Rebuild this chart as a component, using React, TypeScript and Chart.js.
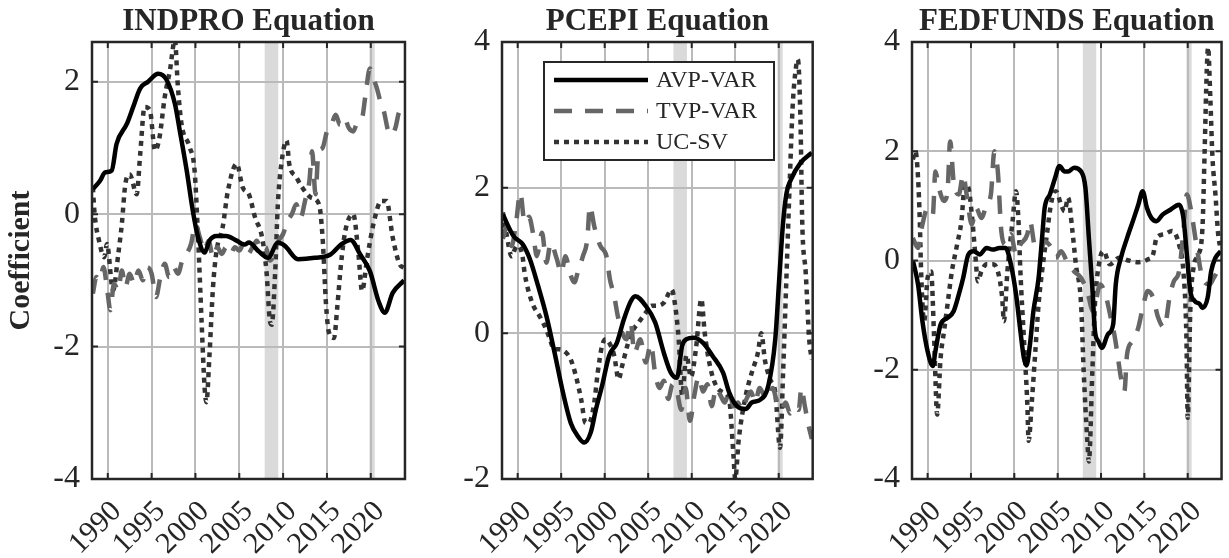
import React, { useEffect, useRef } from 'react';
import { Chart, registerables } from 'chart.js';

Chart.register(...registerables);

const FONT_FAMILY = '"Liberation Serif", "Times New Roman", Times, serif';
const TEXT_COLOR = '#262626';
const GRID_COLOR = '#bababa';
const SHADE_COLOR = '#dadada';

const seriesLabels = ['AVP-VAR', 'TVP-VAR', 'UC-SV'];
const xTickYears = [1990, 1995, 2000, 2005, 2010, 2015, 2020];
const recessionStarts = [2007.9, 2019.85];
const recessionEnds = [2009.45, 2020.45];
const panelTitles = ['INDPRO Equation', 'PCEPI Equation', 'FEDFUNDS Equation'];
const yAxisLabel = 'Coefficient';

const indproYTicks = [-4, -2, 0, 2];
const pcepiYTicks = [-2, 0, 2, 4];
const fedfundsYTicks = [-4, -2, 0, 2, 4];

// ---------- INDPRO ----------
const indproAvpYears = [1988.3, 1989.1, 1989.7, 1990.45, 1991.0, 1992.2, 1992.9, 1993.7, 1994.6, 1995.75, 1996.7, 1997.65, 1998.2, 1999.0, 1999.7, 2000.3, 2001.05, 2001.6, 2002.4, 2003.5, 2004.7, 2005.6, 2006.1, 2007.2, 2008.3, 2009.4, 2010.2, 2011.7, 2013.6, 2015.4, 2016.6, 2017.7, 2018.8, 2019.9, 2020.9, 2021.6, 2022.5, 2023.8];
const indproAvpValues = [0.38, 0.5, 0.63, 0.66, 1.06, 1.37, 1.62, 1.9, 2.0, 2.12, 2.03, 1.67, 1.27, 0.66, 0.05, -0.35, -0.58, -0.4, -0.33, -0.33, -0.4, -0.46, -0.43, -0.56, -0.66, -0.43, -0.48, -0.68, -0.66, -0.61, -0.46, -0.39, -0.61, -0.86, -1.32, -1.49, -1.19, -1.0];

const indproTvpYears = [1988.3, 1988.7, 1989.1, 1989.5, 1989.9, 1990.3, 1990.7, 1991.2, 1991.6, 1992.0, 1992.5, 1993.0, 1993.5, 1994.0, 1994.5, 1995.0, 1995.5, 1996.0, 1996.5, 1997.0, 1997.5, 1998.0, 1998.5, 1999.0, 1999.5, 2000.0, 2000.5, 2001.0, 2001.5, 2002.0, 2002.5, 2003.0, 2003.5, 2004.0, 2004.5, 2005.0, 2005.5, 2006.0, 2006.5, 2007.0, 2007.5, 2008.0, 2008.5, 2009.0, 2009.5, 2010.0, 2010.5, 2011.0, 2011.5, 2012.0, 2012.5, 2013.0, 2013.3, 2013.7, 2014.0, 2014.5, 2015.0, 2015.5, 2016.0, 2016.5, 2017.0, 2017.5, 2018.0, 2018.5, 2019.0, 2019.4, 2019.9, 2020.3, 2020.7, 2021.1, 2021.5, 2022.0, 2022.4, 2022.8, 2023.3, 2023.8];
const indproTvpValues = [-1.2, -0.95, -1.0, -0.8, -1.1, -1.45, -1.05, -1.15, -0.85, -1.1, -0.9, -1.05, -0.85, -1.0, -0.8, -0.9, -1.25, -0.95, -0.75, -0.95, -0.8, -0.9, -0.7, -0.6, -0.45, -0.15, -0.35, -0.55, -0.4, -0.65, -0.5, -0.6, -0.5, -0.6, -0.5, -0.55, -0.45, -0.6, -0.5, -0.4, -0.55, -0.5, -0.7, -0.6, -0.4, -0.3, -0.1, 0.0, 0.15, -0.05, 0.2, 0.5, 0.95, 0.3, 0.9, 1.0, 1.25, 1.35, 1.5, 1.35, 1.45, 1.3, 1.25, 1.4, 1.45, 1.8, 2.2, 2.05, 1.9, 1.7, 1.55, 1.25, 1.2, 1.3, 1.55, 1.5];

const indproUcsvYears = [1988.3, 1988.5, 1989.0, 1989.6, 1989.9, 1990.6, 1991.2, 1991.6, 1992.0, 1992.5, 1993.3, 1993.7, 1994.2, 1994.8, 1995.4, 1995.9, 1996.5, 1997.1, 1997.65, 1998.0, 1998.4, 1999.35, 1999.9, 2000.3, 2000.7, 2001.05, 2001.25, 2001.6, 2002.0, 2002.4, 2003.1, 2003.7, 2004.7, 2005.4, 2006.1, 2006.8, 2007.6, 2008.1, 2008.5, 2008.7, 2009.1, 2009.4, 2009.8, 2010.4, 2010.7, 2011.5, 2012.2, 2013.2, 2014.1, 2014.5, 2014.9, 2015.2, 2015.8, 2016.2, 2016.6, 2017.1, 2018.0, 2018.6, 2019.0, 2019.6, 2020.3, 2021.2, 2021.8, 2022.5, 2023.3, 2023.8];
const indproUcsvValues = [0.4, 0.0, -0.4, -0.65, -0.45, -1.15, -0.6, -0.15, 0.45, 0.6, 0.3, 0.91, 1.62, 1.57, 0.96, 1.16, 1.77, 2.18, 2.63, 1.92, 1.37, 1.01, 0.66, -0.35, -1.62, -2.63, -2.84, -2.13, -1.11, -0.56, -0.2, 0.35, 0.76, 0.4, 0.3, -0.05, -0.35, -0.86, -1.62, -1.67, -0.86, 0.15, 0.76, 1.11, 0.76, 0.56, 0.4, 0.25, 0.15, -0.35, -1.37, -1.77, -1.87, -1.37, -0.76, -0.25, 0.0, -0.61, -1.16, -0.66, -0.15, 0.2, 0.2, -0.35, -0.76, -0.81];

// ---------- PCEPI ----------
const pcepiAvpYears = [1988.3, 1989.5, 1990.6, 1991.4, 1992.35, 1993.3, 1994.25, 1995.2, 1996.1, 1996.9, 1997.65, 1998.4, 1999.0, 1999.7, 2000.5, 2001.4, 2002.2, 2003.0, 2003.5, 2004.7, 2005.8, 2006.8, 2007.6, 2008.3, 2008.9, 2009.4, 2010.2, 2011.3, 2012.4, 2013.6, 2014.3, 2015.2, 2016.2, 2016.9, 2017.9, 2018.8, 2019.6, 2020.1, 2020.5, 2020.9, 2021.4, 2022.5, 2023.8];
const pcepiAvpValues = [1.63, 1.34, 1.22, 1.02, 0.65, 0.24, -0.27, -0.81, -1.23, -1.41, -1.5, -1.36, -1.04, -0.72, -0.31, -0.13, 0.19, 0.44, 0.51, 0.38, 0.15, -0.27, -0.54, -0.61, -0.17, -0.08, -0.06, -0.13, -0.31, -0.54, -0.81, -1.0, -1.04, -0.95, -0.91, -0.72, -0.08, 0.83, 1.52, 1.93, 2.11, 2.34, 2.48];

const pcepiTvpYears = [1988.3, 1988.8, 1989.3, 1989.8, 1990.3, 1990.8, 1991.3, 1991.8, 1992.2, 1992.8, 1993.3, 1993.8, 1994.5, 1995.0, 1995.5, 1996.0, 1996.5, 1997.0, 1997.5, 1998.0, 1998.3, 1998.8, 1999.5, 2000.2, 2000.6, 2001.1, 2001.5, 2002.0, 2002.5, 2003.0, 2003.4, 2004.1, 2004.7, 2005.3, 2005.8, 2006.3, 2006.8, 2007.3, 2007.8, 2008.3, 2008.8, 2009.3, 2009.8, 2010.3, 2010.8, 2011.3, 2011.8, 2012.3, 2012.8, 2013.3, 2013.8, 2014.3, 2014.8, 2015.3, 2015.8, 2016.3, 2016.8, 2017.3, 2017.8, 2018.3, 2018.8, 2019.3, 2019.8, 2020.3, 2020.8, 2021.3, 2021.8, 2022.3, 2022.6, 2023.0, 2023.4, 2023.8];
const pcepiTvpValues = [1.3, 1.47, 1.2, 1.5, 1.93, 1.52, 1.6, 1.35, 1.06, 1.38, 0.97, 1.24, 1.02, 0.83, 1.06, 0.83, 0.7, 0.88, 1.06, 1.29, 1.75, 1.47, 1.2, 1.06, 0.74, 0.51, 0.24, 0.01, -0.08, 0.15, -0.27, -0.08, -0.4, -0.15, -0.55, -0.75, -0.65, -0.9, -0.7, -0.8, -1.05, -0.75, -1.2, -0.85, -0.6, -0.8, -0.7, -1.0, -0.75, -0.85, -0.95, -0.8, -1.0, -0.95, -1.05, -0.9, -0.8, -0.95, -0.75, -0.85, -0.9, -0.75, -0.95, -1.05, -0.95, -1.1, -1.0, -1.05, -0.75, -1.0, -1.25, -1.45];

const pcepiUcsvYears = [1988.3, 1988.7, 1989.3, 1989.9, 1990.5, 1990.8, 1991.2, 1991.8, 1992.5, 1993.3, 1993.7, 1994.2, 1994.8, 1995.6, 1996.1, 1996.7, 1997.3, 1997.8, 1998.2, 1998.8, 1999.2, 1999.7, 2000.1, 2000.7, 2001.1, 2001.6, 2002.0, 2002.6, 2003.1, 2003.9, 2004.7, 2005.4, 2006.1, 2006.8, 2007.7, 2008.1, 2008.5, 2008.9, 2009.4, 2009.9, 2010.5, 2011.1, 2011.5, 2012.1, 2012.8, 2013.6, 2014.3, 2014.8, 2015.0, 2015.4, 2016.2, 2016.9, 2017.6, 2018.0, 2018.4, 2019.0, 2019.6, 2020.15, 2020.5, 2020.9, 2021.3, 2021.6, 2022.0, 2022.2, 2022.5, 2022.7, 2023.1, 2023.5, 2023.8];
const pcepiUcsvValues = [1.66, 1.38, 1.06, 1.2, 1.1, 0.83, 0.6, 0.38, 0.24, 0.05, -0.08, -0.22, -0.22, -0.27, -0.36, -0.59, -0.91, -1.23, -1.23, -0.95, -0.54, -0.17, -0.08, -0.17, -0.31, -0.63, -0.45, -0.17, 0.01, 0.15, 0.28, 0.38, 0.38, 0.42, 0.6, 0.38, -0.08, -0.85, -0.3, -0.6, -0.2, 0.47, 0.0, -0.45, -0.72, -0.81, -0.91, -1.68, -2.0, -1.46, -0.86, -0.54, -0.27, 0.0, -0.36, -0.63, -0.81, -1.57, -0.54, 0.83, 2.2, 3.12, 3.67, 3.76, 2.9, 1.52, 0.83, -0.08, -0.36];

// ---------- FEDFUNDS ----------
const fedfundsAvpYears = [1988.3, 1988.9, 1989.4, 1990.0, 1990.6, 1990.9, 1991.5, 1992.3, 1993.0, 1993.6, 1994.1, 1994.7, 1995.3, 1996.0, 1996.8, 1997.5, 1998.3, 1999.0, 1999.6, 2000.2, 2000.7, 2001.1, 2001.4, 2001.8, 2002.2, 2002.8, 2003.2, 2003.5, 2004.1, 2004.7, 2005.2, 2005.8, 2006.2, 2006.9, 2007.7, 2008.2, 2008.6, 2009.0, 2009.3, 2009.7, 2010.1, 2010.8, 2011.4, 2011.7, 2012.3, 2013.0, 2013.8, 2014.3, 2014.8, 2015.3, 2015.8, 2016.4, 2017.1, 2018.0, 2019.0, 2019.5, 2019.9, 2020.3, 2020.8, 2021.4, 2021.7, 2022.3, 2022.7, 2023.2, 2023.8];
const fedfundsAvpValues = [0.0, -0.44, -1.11, -1.66, -1.93, -1.66, -1.17, -1.05, -0.93, -0.62, -0.32, 0.11, 0.17, 0.11, 0.23, 0.2, 0.23, 0.23, -0.07, -0.62, -1.29, -1.78, -1.92, -1.54, -0.93, -0.32, 0.41, 0.96, 1.21, 1.51, 1.73, 1.63, 1.63, 1.7, 1.63, 1.33, 0.41, -0.5, -1.29, -1.48, -1.6, -1.35, -1.17, -0.44, 0.05, 0.41, 0.78, 1.02, 1.27, 0.96, 0.78, 0.72, 0.84, 0.93, 1.02, 0.78, 0.11, -0.56, -0.74, -0.8, -0.87, -0.68, -0.2, 0.05, 0.17];

const fedfundsTvpYears = [1988.3, 1988.9, 1989.4, 1990.0, 1990.6, 1990.9, 1991.3, 1991.9, 1992.3, 1992.6, 1993.0, 1993.6, 1994.1, 1994.5, 1995.1, 1995.6, 1996.2, 1996.8, 1997.3, 1997.7, 1998.1, 1998.5, 1999.0, 1999.6, 2000.2, 2000.7, 2001.5, 2001.8, 2002.4, 2003.0, 2003.5, 2004.3, 2004.8, 2005.4, 2006.2, 2006.9, 2007.7, 2008.4, 2009.1, 2009.9, 2010.6, 2011.2, 2011.6, 2011.9, 2012.3, 2012.7, 2013.0, 2013.6, 2014.3, 2014.9, 2015.4, 2016.0, 2016.6, 2017.3, 2017.9, 2018.4, 2019.0, 2019.5, 2019.9, 2020.4, 2021.0, 2021.7, 2022.5, 2023.0, 2023.8];
const fedfundsTvpValues = [0.41, 0.23, 0.66, 0.96, 0.84, 1.63, 1.33, 1.09, 1.27, 2.18, 1.45, 1.21, 1.57, 1.21, 0.66, 0.96, 0.78, 1.02, 1.21, 2.0, 1.63, 0.54, 0.29, 0.48, 0.11, 0.29, 0.48, 0.72, 0.23, 0.17, 0.35, 0.23, 0.05, 0.17, -0.07, -0.2, -0.32, -0.56, -0.93, -0.44, -0.68, -1.11, -1.41, -1.72, -2.15, -2.39, -1.72, -1.48, -1.23, -0.8, -0.56, -0.68, -1.05, -1.23, -0.68, -0.38, -0.2, 0.54, 1.21, 0.9, 0.29, -0.32, -0.44, -0.32, -0.07];

const fedfundsUcsvYears = [1988.3, 1988.6, 1988.9, 1989.1, 1989.25, 1989.6, 1990.0, 1990.4, 1990.75, 1991.1, 1991.5, 1991.9, 1992.3, 1992.8, 1993.4, 1993.9, 1994.3, 1994.7, 1995.1, 1995.5, 1995.8, 1996.2, 1996.8, 1997.5, 1998.1, 1998.6, 1998.8, 1999.2, 1999.8, 2000.2, 2000.5, 2000.7, 2001.1, 2001.5, 2001.65, 2002.0, 2002.4, 2002.8, 2003.2, 2003.7, 2004.3, 2004.8, 2005.4, 2005.8, 2006.2, 2006.7, 2007.1, 2007.7, 2008.0, 2008.4, 2008.6, 2009.0, 2009.3, 2009.9, 2010.3, 2011.0, 2012.1, 2013.2, 2014.3, 2015.4, 2016.0, 2016.4, 2017.3, 2018.2, 2019.0, 2019.5, 2019.85, 2020.0, 2020.3, 2020.7, 2021.2, 2021.7, 2021.95, 2022.2, 2022.35, 2022.6, 2022.85, 2023.2, 2023.5, 2023.8];
const fedfundsUcsvValues = [1.85, 2.0, 1.51, 0.72, -0.2, -1.11, -0.32, -0.2, -1.41, -2.82, -1.78, -1.29, -0.8, -0.2, 0.29, 0.72, 1.39, 1.33, 0.84, 0.11, -0.38, -0.2, -0.07, -0.07, -0.2, -0.68, -1.11, -0.2, 0.72, 1.27, 0.66, -0.2, -1.41, -2.63, -3.3, -2.63, -1.72, -0.8, -0.2, 0.41, 1.09, 1.27, 1.02, 0.9, 1.15, 0.54, -0.07, -0.8, -2.03, -3.25, -3.68, -2.03, -0.8, 0.05, 0.17, -0.07, 0.05, 0.0, -0.03, 0.02, 0.11, 0.41, 0.48, 0.54, 0.29, -0.2, -1.41, -2.88, -0.9, -0.1, 0.1, 0.6, 2.0, 3.5, 3.9, 3.0, 1.9, 1.2, 0.5, 0.2];

// ---------- styling per series ----------
const seriesColors = ['#000000', '#666666', '#333333'];
const seriesWidths = [4.5, 4.5, 4.5];
const seriesDashes: number[][] = [[], [18, 13], [5, 5]];

type PanelSpec = {
  title: string;
  left: number;
  width: number;
  yAxisWidth: number;
  rightPad: number;
  yMin: number;
  yMax: number;
  yTicks: number[];
  showYTitle: boolean;
  showLegend: boolean;
  years: number[][];
  values: number[][];
};

const panels: PanelSpec[] = [
  {
    title: panelTitles[0], left: 0, width: 412, yAxisWidth: 92, rightPad: 6,
    yMin: -4, yMax: 2.6, yTicks: indproYTicks, showYTitle: true, showLegend: false,
    years: [indproAvpYears, indproTvpYears, indproUcsvYears],
    values: [indproAvpValues, indproTvpValues, indproUcsvValues],
  },
  {
    title: panelTitles[1], left: 412, width: 408, yAxisWidth: 90, rightPad: 4,
    yMin: -2, yMax: 4, yTicks: pcepiYTicks, showYTitle: false, showLegend: true,
    years: [pcepiAvpYears, pcepiTvpYears, pcepiUcsvYears],
    values: [pcepiAvpValues, pcepiTvpValues, pcepiUcsvValues],
  },
  {
    title: panelTitles[2], left: 820, width: 409, yAxisWidth: 92, rightPad: 4,
    yMin: -4, yMax: 4, yTicks: fedfundsYTicks, showYTitle: false, showLegend: false,
    years: [fedfundsAvpYears, fedfundsTvpYears, fedfundsUcsvYears],
    values: [fedfundsAvpValues, fedfundsTvpValues, fedfundsUcsvValues],
  },
];

const shadePlugin = {
  id: 'recessionShade',
  beforeDraw(chart: any) {
    const { ctx, chartArea: a, scales } = chart;
    ctx.save();
    ctx.fillStyle = SHADE_COLOR;
    recessionStarts.forEach((s, i) => {
      const x0 = scales.x.getPixelForValue(s);
      const x1 = scales.x.getPixelForValue(recessionEnds[i]);
      ctx.fillRect(x0, a.top, x1 - x0, a.bottom - a.top);
    });
    ctx.restore();
  },
};

const boxPlugin = {
  id: 'axesBox',
  afterDatasetsDraw(chart: any) {
    const { ctx, chartArea: a, scales } = chart;
    ctx.save();
    ctx.strokeStyle = TEXT_COLOR;
    ctx.lineWidth = 2;
    ctx.setLineDash([]);
    ctx.beginPath();
    scales.x.ticks.forEach((t: any) => {
      const px = scales.x.getPixelForValue(t.value);
      ctx.moveTo(px, a.top); ctx.lineTo(px, a.top + 6);
      ctx.moveTo(px, a.bottom); ctx.lineTo(px, a.bottom - 6);
    });
    scales.y.ticks.forEach((t: any) => {
      const py = scales.y.getPixelForValue(t.value);
      ctx.moveTo(a.left, py); ctx.lineTo(a.left + 6, py);
      ctx.moveTo(a.right, py); ctx.lineTo(a.right - 6, py);
    });
    ctx.stroke();
    ctx.lineWidth = 2.5;
    ctx.strokeRect(a.left, a.top, a.right - a.left, a.bottom - a.top);
    ctx.restore();
  },
};

const legendPlugin = {
  id: 'boxedLegend',
  afterDraw(chart: any) {
    if (!chart.options.plugins.boxedLegend?.show) return;
    const { ctx, chartArea: a } = chart;
    const left = a.left + 42;
    const top = a.top + 20;
    const w = 230;
    const h = 98;
    ctx.save();
    ctx.fillStyle = '#ffffff';
    ctx.fillRect(left, top, w, h);
    ctx.setLineDash([]);
    ctx.strokeStyle = TEXT_COLOR;
    ctx.lineWidth = 2;
    ctx.strokeRect(left, top, w, h);
    chart.data.datasets.forEach((ds: any, i: number) => {
      const y = top + 18 + i * 31;
      ctx.beginPath();
      ctx.setLineDash(ds.borderDash || []);
      ctx.lineDashOffset = 0;
      ctx.lineCap = 'butt';
      ctx.strokeStyle = ds.borderColor;
      ctx.lineWidth = ds.borderWidth;
      ctx.moveTo(left + 10, y);
      ctx.lineTo(left + 104, y);
      ctx.stroke();
      ctx.setLineDash([]);
      ctx.fillStyle = TEXT_COLOR;
      ctx.font = `24px ${FONT_FAMILY}`;
      ctx.textAlign = 'left';
      ctx.textBaseline = 'middle';
      ctx.fillText(ds.label, left + 112, y + 1);
    });
    ctx.restore();
  },
};

function Panel({ spec }: { spec: PanelSpec }) {
  const ref = useRef<HTMLCanvasElement | null>(null);
  useEffect(() => {
    if (!ref.current) return;
    const datasets = seriesLabels.map((label, i) => ({
      label,
      data: spec.years[i].map((x, j) => ({ x, y: spec.values[i][j] })),
      borderColor: seriesColors[i],
      backgroundColor: seriesColors[i],
      borderWidth: seriesWidths[i],
      borderDash: seriesDashes[i],
      borderCapStyle: 'butt',
      borderJoinStyle: 'round',
      pointRadius: 0,
      fill: false,
      cubicInterpolationMode: 'monotone',
      clip: 0,
    }));
    const chart = new Chart(ref.current, {
      type: 'line',
      data: { datasets } as any,
      plugins: [shadePlugin, boxPlugin, legendPlugin],
      options: {
        responsive: false,
        animation: false,
        devicePixelRatio: 1,
        events: [],
        layout: { padding: { left: 0, right: spec.rightPad, top: 0, bottom: 0 } },
        scales: {
          x: {
            type: 'linear',
            min: 1988.2,
            max: 2023.9,
            afterBuildTicks: (s: any) => { s.ticks = xTickYears.map((v) => ({ value: v })); },
            afterFit: (s: any) => { s.height = 79; },
            grid: { color: GRID_COLOR, lineWidth: 2, drawTicks: false },
            border: { display: false },
            ticks: {
              autoSkip: false,
              maxRotation: 45,
              minRotation: 45,
              padding: 15,
              labelOffset: 9,
              color: TEXT_COLOR,
              font: { family: FONT_FAMILY, size: 30 },
              callback: (v: any) => String(v),
            },
          },
          y: {
            type: 'linear',
            min: spec.yMin,
            max: spec.yMax,
            afterBuildTicks: (s: any) => { s.ticks = spec.yTicks.map((v) => ({ value: v })); },
            afterFit: (s: any) => { s.width = spec.yAxisWidth; },
            grid: { color: GRID_COLOR, lineWidth: 2, drawTicks: false },
            border: { display: false },
            ticks: {
              padding: 12,
              color: TEXT_COLOR,
              font: { family: FONT_FAMILY, size: 32 },
              callback: (v: any) => String(v),
            },
            title: {
              display: spec.showYTitle,
              text: yAxisLabel,
              color: TEXT_COLOR,
              font: { family: FONT_FAMILY, size: 30, weight: 'bold' },
              padding: { top: 3, bottom: 0 },
            },
          },
        },
        plugins: {
          legend: { display: false },
          tooltip: { enabled: false },
          title: {
            display: true,
            text: spec.title,
            fullSize: false,
            color: TEXT_COLOR,
            font: { family: FONT_FAMILY, size: 31, weight: 'bold' },
            padding: { top: 3.5, bottom: 1.3 },
          },
          boxedLegend: { show: spec.showLegend },
        } as any,
      } as any,
    });
    return () => chart.destroy();
  }, [spec]);
  return (
    <canvas
      ref={ref}
      width={spec.width}
      height={558}
      style={{ position: 'absolute', left: spec.left, top: 0, width: spec.width, height: 558 }}
    />
  );
}

export default function App() {
  return (
    <div style={{ position: 'absolute', left: 0, top: 0, width: 1229, height: 558, background: '#ffffff', overflow: 'hidden' }}>
      {panels.map((p) => (
        <Panel key={p.title} spec={p} />
      ))}
    </div>
  );
}
